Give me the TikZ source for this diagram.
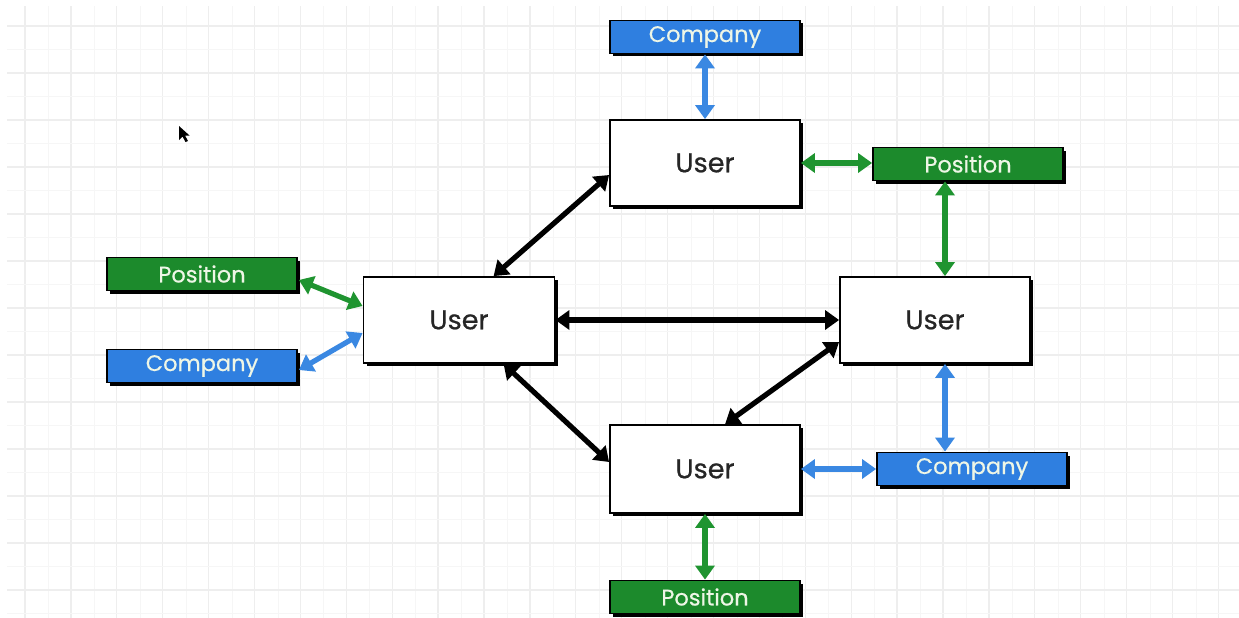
\documentclass[tikz,border=0pt]{standalone}
\usepackage{fontspec}
\setmainfont{Poppins}
\newfontfamily\lblfont{Poppins}[FakeBold=0.6]
\usetikzlibrary{arrows.meta,calc,shadows}
\definecolor{bbox}{HTML}{2F7FE0}
\definecolor{gbox}{HTML}{1C8A2C}
\definecolor{barr}{HTML}{3A88E2}
\definecolor{garr}{HTML}{1F9430}
\definecolor{lbl}{HTML}{EEF6E6}
\definecolor{gmaj}{HTML}{EEEEEE}
\definecolor{gmin}{HTML}{F6F6F6}
\tikzset{
  boxbase/.style={draw=black,line width=1.8pt,rectangle,
    drop shadow={shadow xshift=3pt,shadow yshift=-3pt,fill=black,opacity=1}},
  userbox/.style={boxbase,fill=white,minimum width=190pt,minimum height=86pt,
    font=\lblfont\fontsize{27}{30}\selectfont,text=black!85},
  compbox/.style={boxbase,fill=bbox,minimum width=190pt,minimum height=33pt,
    font=\lblfont\fontsize{22.5}{25}\selectfont,text=lbl,inner sep=0pt},
  posbox/.style={boxbase,fill=gbox,minimum width=190pt,minimum height=33pt,
    font=\lblfont\fontsize{22.5}{25}\selectfont,text=lbl,inner sep=0pt},
  link/.style={line width=5.2pt,{Triangle[width=19pt,length=14pt]}-{Triangle[width=19pt,length=14pt]}},
  blink/.style={link,draw=barr},
  glink/.style={link,draw=garr},
  klink/.style={link,draw=black}
}
\begin{document}
\begin{tikzpicture}[x=1pt,y=-1pt]
\useasboundingbox (0,0) rectangle (1239,618);
\fill[white] (0,0) rectangle (1239,618);
\begin{scope}
\clip (7,7) rectangle (1239,618);
\foreach \k in {-1,...,27} {
  \draw[gmin,line width=1pt] ({48.5+45.9*\k},0) -- ({48.5+45.9*\k},618);
  \draw[gmaj,line width=1.3pt] ({25+45.9*\k},0) -- ({25+45.9*\k},618);
}
\foreach \k in {-1,...,13} {
  \draw[gmin,line width=1pt] (0,{49.5+47*\k}) -- (1239,{49.5+47*\k});
  \draw[gmaj,line width=1.3pt] (0,{26+47*\k}) -- (1239,{26+47*\k});
}
\end{scope}
% cursor
\fill[black] (179,126) -- (179,140) -- (182.5,136.5) -- (185.5,142) -- (188,141) -- (185,135.5) -- (189.5,135.5) -- cycle;
% nodes
\node[compbox] (cT) at (705,37) {Company};
\node[userbox] (uT) at (705,163) {User};
\node[posbox] (pR) at (968,164) {Position};
\node[posbox] (pL) at (202,274) {Position};
\node[compbox] (cL) at (202,366) {Company};
\node[userbox,minimum width=191pt] (uL) at (459,320) {User};
\node[userbox] (uR) at (935,320) {User};
\node[userbox,minimum height=88pt] (uB) at (705,469) {User};
\node[compbox] (cR) at (972,469) {Company};
\node[posbox] (pB) at (705,597) {Position};
% connectors
\draw[blink] (cT.south) -- (uT.north);
\draw[glink] (uT.east) -- (uT.east -| pR.west);
\draw[glink] ([xshift=10pt]pR.south -| uR.north) -- ([xshift=10pt]uR.north);
\draw[glink] ($(pL.east)+(1,6)$) -- ($(uL.west)+(0,-14)$);
\draw[blink] ($(cL.east)+(1,4)$) -- ($(uL.west)+(0,13)$);
\draw[klink] ($(uL.north west)+(131,0)$) -- ($(uT.west)+(0,12)$);
\draw[klink] (uL.east) -- (uR.west);
\draw[klink] ($(uL.south west)+(141,0)$) -- ($(uB.west)+(0,-7)$);
\draw[klink] ($(uR.west)+(0,22)$) -- ($(uB.north west)+(116,0)$);
\draw[blink] ([xshift=10pt]uR.south) -- ([xshift=10pt]uR.south |- cR.north);
\draw[blink] (uB.east) -- (cR.west);
\draw[glink] (uB.south) -- (pB.north);
\end{tikzpicture}
\end{document}
